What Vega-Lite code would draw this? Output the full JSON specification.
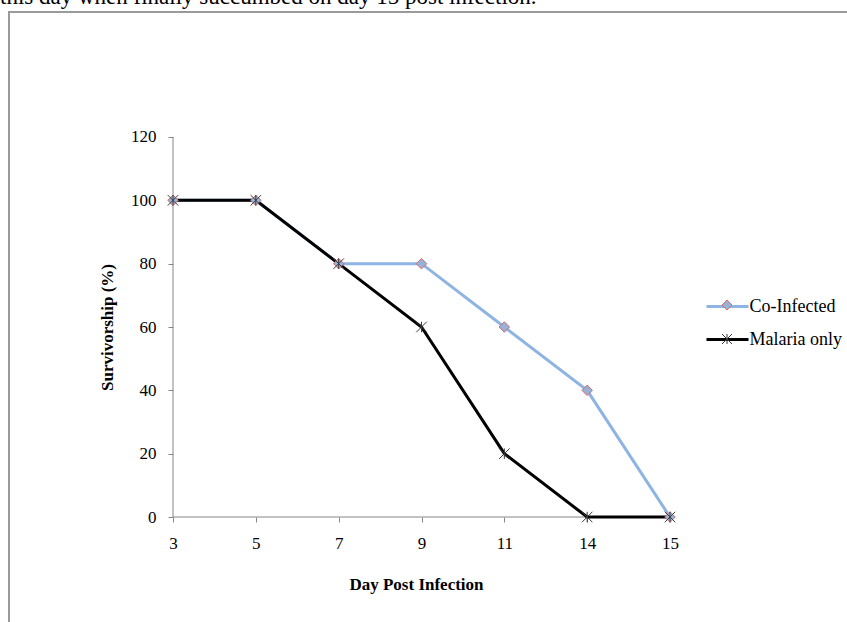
{
  "$schema": "https://vega.github.io/schema/vega-lite/v6.json",
  "autosize": {"type": "none"},
  "width": 858,
  "height": 630,
  "padding": {"left": 9, "top": 12, "right": -20, "bottom": -20},
  "background": "white",
  "title": {
    "text": "this day when finally succumbed on day 15 post infection.",
    "anchor": "start",
    "frame": "group",
    "orient": "top",
    "offset": -15,
    "dx": -9,
    "baseline": "alphabetic",
    "font": "Liberation Serif",
    "fontSize": 23,
    "fontWeight": "normal",
    "color": "black"
  },
  "config": {
    "view": {"stroke": "#9a9a9a", "strokeWidth": 2},
    "font": "Liberation Serif",
    "axisX": {
      "offset": -125, "domain": false, "grid": false, "ticks": true,
      "tickColor": "#868686", "tickSize": 5,
      "labelFont": "Liberation Serif", "labelFontSize": 17, "labelColor": "black",
      "labelPadding": 13, "labelAngle": 0,
      "titleFont": "Liberation Serif", "titleFontSize": 17, "titleFontWeight": "bold", "titleColor": "black",
      "titleX": 407, "titleY": 67, "titleBaseline": "middle", "titleAlign": "center"
    },
    "axisY": {
      "offset": -164, "domain": false, "grid": false, "ticks": true,
      "tickColor": "#868686", "tickSize": 5,
      "labelFont": "Liberation Serif", "labelFontSize": 17, "labelColor": "black",
      "labelPadding": 12,
      "titleFont": "Liberation Serif", "titleFontSize": 17, "titleFontWeight": "bold", "titleColor": "black",
      "titleX": -66, "titleY": 315, "titleBaseline": "middle", "titleAlign": "center", "titleAngle": -90
    }
  },
  "data": {
    "values": [
      {"day": 3, "survival": 100, "series": "Co-Infected"},
      {"day": 5, "survival": 100, "series": "Co-Infected"},
      {"day": 7, "survival": 80, "series": "Co-Infected"},
      {"day": 9, "survival": 80, "series": "Co-Infected"},
      {"day": 11, "survival": 60, "series": "Co-Infected"},
      {"day": 14, "survival": 40, "series": "Co-Infected"},
      {"day": 15, "survival": 0, "series": "Co-Infected"},
      {"day": 3, "survival": 100, "series": "Malaria only"},
      {"day": 5, "survival": 100, "series": "Malaria only"},
      {"day": 7, "survival": 80, "series": "Malaria only"},
      {"day": 9, "survival": 60, "series": "Malaria only"},
      {"day": 11, "survival": 20, "series": "Malaria only"},
      {"day": 14, "survival": 0, "series": "Malaria only"},
      {"day": 15, "survival": 0, "series": "Malaria only"}
    ]
  },
  "layer": [
    {
      "data": {"values": [{}]},
      "mark": {"type": "rule", "color": "#868686", "strokeWidth": 1},
      "encoding": {
        "x": {"datum": 3, "type": "ordinal", "title": "Day Post Infection",
              "scale": {"type": "point", "domain": [3, 5, 7, 9, 11, 14, 15], "range": [164, 661], "padding": 0}},
        "y": {"datum": 0, "type": "quantitative", "title": "Survivorship (%)",
              "axis": {"values": [0, 20, 40, 60, 80, 100, 120]},
              "scale": {"domain": [-39.47, 159.47], "nice": false, "zero": false}},
        "y2": {"datum": 120}
      }
    },
    {
      "data": {"values": [{}]},
      "mark": {"type": "rule", "color": "#868686", "strokeWidth": 1},
      "encoding": {
        "x": {"datum": 3, "type": "ordinal", "title": "Day Post Infection",
              "scale": {"type": "point", "domain": [3, 5, 7, 9, 11, 14, 15], "range": [164, 661], "padding": 0}},
        "x2": {"datum": 15},
        "y": {"datum": 0, "type": "quantitative", "title": "Survivorship (%)",
              "axis": {"values": [0, 20, 40, 60, 80, 100, 120]},
              "scale": {"domain": [-39.47, 159.47], "nice": false, "zero": false}}
      }
    },
    {
      "mark": {"type": "line", "strokeWidth": 3, "interpolate": "linear"},
      "encoding": {
        "x": {"field": "day", "type": "ordinal", "title": "Day Post Infection",
              "scale": {"type": "point", "domain": [3, 5, 7, 9, 11, 14, 15], "range": [164, 661], "padding": 0}},
        "y": {"field": "survival", "type": "quantitative", "title": "Survivorship (%)",
              "axis": {"values": [0, 20, 40, 60, 80, 100, 120]},
              "scale": {"domain": [-39.47, 159.47], "nice": false, "zero": false}},
        "color": {
          "field": "series", "type": "nominal",
          "scale": {"domain": ["Co-Infected", "Malaria only"], "range": ["#8DB4E2", "#000000"]},
          "legend": {
            "orient": "none", "legendX": 706.5, "legendY": 282.5, "title": null,
            "symbolType": "M-2,0H2", "symbolSize": 441, "symbolStrokeWidth": 3,
            "labelFont": "Liberation Serif", "labelFontSize": 18, "labelColor": "black",
            "labelOffset": 10, "rowPadding": 12, "zindex": 1
          }
        }
      }
    },
    {
      "mark": {"type": "point", "filled": true, "size": 110, "strokeWidth": 1, "opacity": 1},
      "encoding": {
        "x": {"field": "day", "type": "ordinal", "title": "Day Post Infection",
              "scale": {"type": "point", "domain": [3, 5, 7, 9, 11, 14, 15], "range": [164, 661], "padding": 0}},
        "y": {"field": "survival", "type": "quantitative", "title": "Survivorship (%)",
              "axis": {"values": [0, 20, 40, 60, 80, 100, 120]},
              "scale": {"domain": [-39.47, 159.47], "nice": false, "zero": false}},
        "shape": {
          "field": "series", "type": "nominal",
          "scale": {"domain": ["Malaria only", "Co-Infected"], "range": ["M0,-1V1M-1,-1L1,1M-1,1L1,-1", "diamond"]},
          "legend": {"orient": "none", "legendX": 710.5, "legendY": 285.5, "title": null,
                     "values": ["Co-Infected", "Malaria only"],
                     "symbolSize": 100, "symbolStrokeWidth": 1, "labelExpr": "''", "labelFontSize": 15,
                     "rowPadding": 18, "zindex": 2}
        },
        "fill": {
          "field": "series", "type": "nominal",
          "scale": {"domain": ["Malaria only", "Co-Infected"], "range": ["transparent", "#95B3D7"]},
          "legend": {"orient": "none", "legendX": 710.5, "legendY": 285.5, "title": null,
                     "values": ["Co-Infected", "Malaria only"],
                     "symbolSize": 100, "symbolStrokeWidth": 1, "labelExpr": "''", "labelFontSize": 15,
                     "rowPadding": 18, "zindex": 2}
        },
        "stroke": {
          "field": "series", "type": "nominal",
          "scale": {"domain": ["Malaria only", "Co-Infected"], "range": ["#3a3a3a", "#D9696A"]},
          "legend": {"orient": "none", "legendX": 710.5, "legendY": 285.5, "title": null,
                     "values": ["Co-Infected", "Malaria only"],
                     "symbolSize": 100, "symbolStrokeWidth": 1, "labelExpr": "''", "labelFontSize": 15,
                     "rowPadding": 18, "zindex": 2}
        }
      }
    }
  ]
}
